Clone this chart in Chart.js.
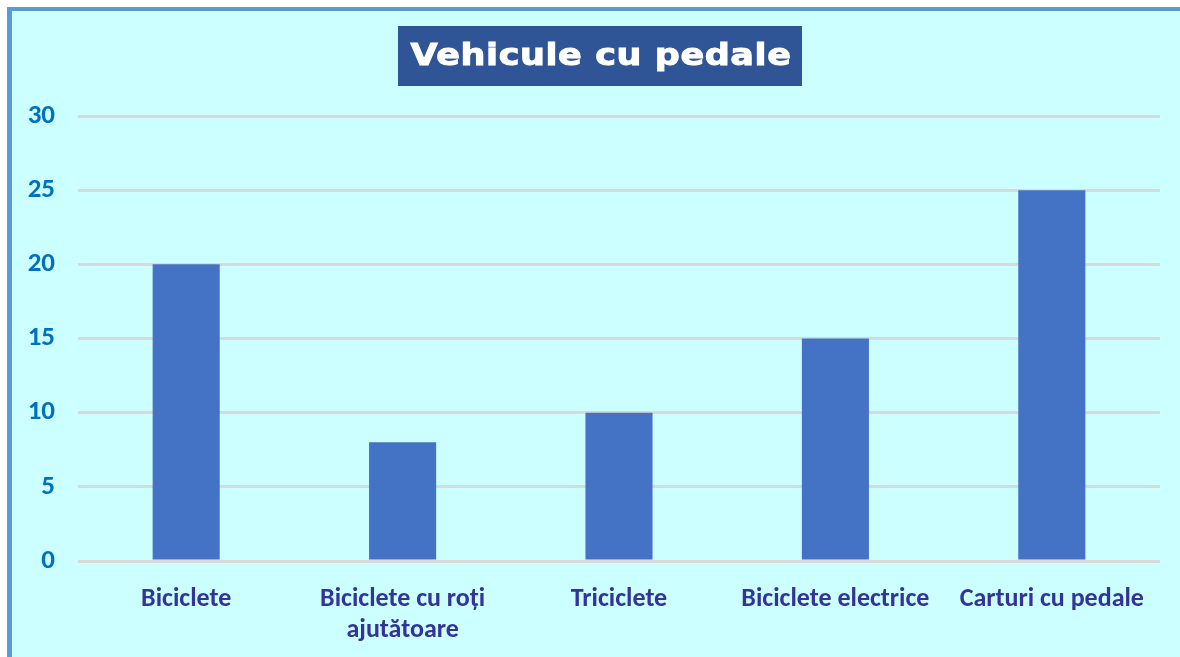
<!DOCTYPE html>
<html>
<head>
<meta charset="utf-8">
<script src="https://cdn.jsdelivr.net/npm/chart.js@4/dist/chart.umd.min.js"></script>
<style>
  html, body { margin: 0; padding: 0; background: #fff; }
  #frame {
    position: absolute; left: 7px; top: 7px;
    width: 1168px; height: 646px;
    background: #CCFFFF;
    border-left: 5px solid #5B9BD5;
    border-top: 4px solid #5B9BD5;
  }
  #chart { display: block; }
</style>
</head>
<body>
<div id="frame"><canvas id="chart" width="1168" height="646"></canvas></div>
<script>
// ── Data ───────────────────────────────────────────────
const categories = ['Biciclete', ['Biciclete cu roți', 'ajutătoare'], 'Triciclete', 'Biciclete electrice', 'Carturi cu pedale'];
const values = [20, 8, 10, 15, 25];
const yTicks = [0, 5, 10, 15, 20, 25, 30];
const chartTitle = 'Vehicule cu pedale';

// ── Title box plugin (box + text drawn together) ───────
const titleBox = {
    id: 'titleBox',
    afterDraw(chart) {
        const ctx = chart.ctx;
        ctx.save();
        ctx.fillStyle = '#2F5597';
        ctx.fillRect(386, 15, 404, 60);
        // wide heavy title, stretched horizontally like the original
        ctx.translate(589, 46);
        ctx.scale(1.13, 1);
        ctx.font = 'bold 31px "DejaVu Sans", sans-serif';
        ctx.letterSpacing = '0.5px';
        ctx.fillStyle = '#ffffff';
        ctx.strokeStyle = '#ffffff';
        ctx.lineWidth = 1;
        ctx.textAlign = 'center';
        ctx.textBaseline = 'middle';
        ctx.fillText(chartTitle, 0, 0);
        ctx.strokeText(chartTitle, 0, 0);
        ctx.restore();
    }
};

new Chart(document.getElementById('chart'), {
    type: 'bar',
    data: {
        labels: categories,
        datasets: [{
            data: values,
            backgroundColor: '#4472C4',
            borderWidth: 0,
            categoryPercentage: 1,
            barPercentage: 0.31
        }]
    },
    plugins: [titleBox],
    options: {
        responsive: false,
        animation: false,
        layout: { padding: { top: 105, right: 20, left: 0, bottom: 0 } },
        plugins: {
            legend: { display: false },
            tooltip: { enabled: false },
            title: { display: false }
        },
        scales: {
            x: {
                grid: { display: false },
                border: { display: false },
                ticks: {
                    color: '#333399',
                    font: { family: 'Carlito, Lato, sans-serif', size: 26, weight: 'bold', lineHeight: 1.2 },
                    padding: 15,
                    maxRotation: 0,
                    autoSkip: false
                },
                afterFit(s) { s.height = 96; }
            },
            y: {
                min: 0,
                max: 30,
                afterBuildTicks(s) { s.ticks = yTicks.map(v => ({ value: v })); },
                grid: { color: '#D9D9D9', lineWidth: 3, drawTicks: false },
                border: { display: false },
                ticks: {
                    color: '#0070C0',
                    font: { family: 'Carlito, Lato, sans-serif', size: 27, weight: 'bold' },
                    padding: 23
                },
                afterFit(s) { s.width = 66; }
            }
        }
    }
});
</script>
</body>
</html>
